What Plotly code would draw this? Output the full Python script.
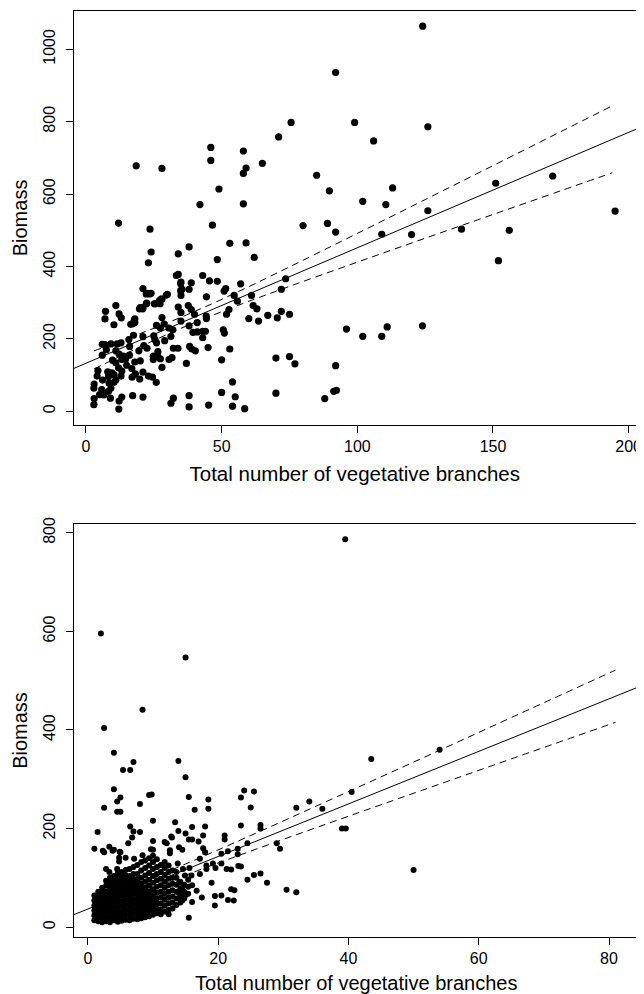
import plotly.graph_objects as go

# ---------------- Top panel data ----------------
top_x = [124.1, 92, 75.6, 99, 126, 106, 71, 46, 46, 58, 18.5, 28, 65, 59, 58, 85, 172, 151, 89.7, 49,
         113, 102, 110.5, 58, 42, 126, 195, 12, 46.6, 80, 89, 92, 23.6, 138.4, 156, 109, 120, 53, 59, 38,
         24, 34, 62, 48.4, 152, 23, 34, 43, 73.6, 45.5, 48.4, 35, 38.8, 57, 72, 38, 21, 35.4, 51.5, 50.9,
         54.6, 61, 35, 30, 22.7, 24, 44.4, 28, 55.8, 22.4, 11, 37.7, 25.4, 27.3, 34, 61.6, 20, 21, 63, 38.8,
         7.2, 72, 12.2, 35, 40, 75, 51.8, 28, 13, 67, 60, 7, 18, 70.5, 44.3, 35, 63.6, 44.4, 52.7, 18,
         16.5, 10.3, 26, 28.8, 38, 41, 27.4, 30.6, 32, 41, 43, 44, 50.6, 51, 39.4, 96, 111, 124, 102, 109,
         17.5, 21, 25, 31.3, 43, 25.4, 15.8, 29, 7, 12.9, 11.5, 9.2, 6, 26, 21.3, 22.5, 16.1, 33.9, 32.2, 38.2,
         39, 40.3, 45, 53, 7.5, 11, 19.5, 26.5, 6, 12.2, 13.8, 16, 24.8, 26.4, 27.4, 31.7, 70, 75, 9.8, 13.2,
         14.6, 18, 20, 24.8, 30.6, 50, 37, 77, 11, 15, 28, 92, 4.4, 12, 16.9, 8, 9.5, 13.2, 21, 18.2,
         4.1, 23, 12.9, 8.3, 10.3, 24.5, 17, 6.1, 11, 19.8, 25.9, 54, 8.5, 3, 10.3, 2.9, 5.8, 9.2, 8.3, 50,
         91.3, 92.3, 70, 5, 6.6, 17.2, 21, 38, 55, 9, 13.2, 32.2, 88, 3, 12.2, 31.3, 2.9, 38, 45.2, 54,
         58.5, 12.1, 33.3, 34.9, 34.9, 22.2, 23.4, 25.2, 22.2, 19.7, 20.9, 27.1, 29.6, 27.7, 17.8, 17.2]
top_y = [1064, 936, 798, 798, 786, 747, 758, 729, 693, 719, 678, 671, 685, 672, 657, 652, 650, 630, 609, 614,
         617, 580, 571, 573, 571, 554, 553, 520, 514, 513, 519, 495, 503, 503, 500, 489, 488, 464, 465, 454,
         440, 435, 425, 419, 416, 410, 378, 375, 366, 360, 359, 357, 355, 352, 337, 337, 339, 337, 339, 332,
         320, 320, 320, 323, 326, 326, 316, 310, 304, 299, 292, 292, 297, 297, 288, 292, 286, 286, 283, 281,
         276, 276, 269, 273, 268, 268, 268, 259, 258, 265, 256, 255, 255, 258, 263, 249, 249, 256, 281, 245,
         240, 239, 237, 241, 236, 245, 230, 230, 225, 219, 221, 221, 225, 216, 218, 227, 233, 236, 207, 207,
         210, 206, 208, 207, 203, 198, 198, 195, 184, 189, 186, 186, 185, 189, 181, 174, 179, 174, 174, 179,
         172, 167, 176, 172, 170, 167, 167, 165, 155, 158, 152, 155, 152, 152, 145, 148, 147, 151, 141, 143,
         144, 136, 139, 143, 143, 142, 132, 131, 134, 127, 121, 126, 112, 120, 118, 109, 106, 111, 108, 103,
         97, 97, 97, 96, 101, 94, 94, 86, 86, 89, 80, 81, 78, 75, 80, 64, 60, 64, 55, 52,
         55, 58, 50, 46, 45, 43, 39, 43, 40, 36, 39, 36, 35, 35, 28, 22, 18, 12, 17, 14,
         7, 6, 375, 352, 333, 324, 324, 297, 297, 283, 283, 306, 321, 310, 251, 242]

top_fit = [132.6, 3.19]          # intercept, slope
top_band_x = [3, 20, 37, 55, 75, 100, 125, 150, 175, 194]
top_band_upper = [167, 214.6, 265.9, 326.5, 398.8, 491.3, 584.8, 678.6, 772.6, 844]
top_band_lower = [117, 178.2, 235.3, 289.5, 345, 411.9, 478, 543.6, 609.2, 659]
top_xticks = [0, 50, 100, 150, 200]
top_yticks = [0, 200, 400, 600, 800, 1000]
top_xrange = [-4.6, 202.7]
top_yrange = [-38, 1106]

# ---------------- Bottom panel data ----------------
bot_out_x = [39.5, 2, 15, 8.4, 2.5, 54, 43.5, 13.9, 4, 5.4, 6.5, 7, 15, 4, 40.5, 9.8, 9.4, 24, 25.5, 15.5,
             23.5, 34, 4.5, 5, 4.5, 2.5, 8, 5, 16.4, 18.5, 18.5, 25, 32, 36, 10, 13.4, 26.5, 26.5, 23.5, 18,
             16, 6.5, 39, 39.6, 1.5, 7, 8, 13.9, 15, 21, 21, 17, 15.5, 16, 10, 6.2, 12.1, 12.9, 24.5, 29,
             29.5, 23, 1, 2.5, 4, 5, 21.5, 20.5, 23, 14.5, 10, 18, 23.5, 24.5, 25.5, 26.5, 27.5, 30.5, 32, 50,
             22, 22.5, 20.5, 21.5, 22.4, 19.5, 19.5, 19, 17.5, 15.5, 16, 16, 14.5, 12.4,
             17.7, 17.7, 17.2, 13.8, 14.6, 15.6, 18.2, 18.2, 19.2, 19.6, 20.5, 21.3, 22, 23.1, 14.9, 15.9, 17.2,
             16.7, 14, 14.5, 14, 15, 14.2,
             6.8, 11.8, 12.8, 2.3, 3.3, 3.8, 4.9, 4.8, 4.8, 5.8, 7.1, 8.4, 9.7, 12.6, 12.6, 14, 2.8, 3.3, 4.5]
bot_out_y = [787, 596, 547, 441, 404, 360, 341, 337, 354, 319, 319, 335, 304, 280, 274, 269, 268, 277, 275, 264,
             263, 255, 255, 234, 234, 242, 250, 263, 238, 259, 240, 243, 242, 240, 216, 213, 207, 200, 206, 204,
             203, 204, 200, 200, 193, 194, 193, 195, 190, 186, 178, 174, 178, 178, 175, 170, 170, 182, 170, 170,
             159, 159, 159, 152, 157, 152, 154, 149, 148, 157, 157, 152, 123, 96, 106, 109, 90, 76, 71, 116,
             77, 75, 64, 55, 54, 63, 44, 90, 60, 19, 85, 51, 54, 26,
             186, 160, 139, 129, 118, 120, 125, 118, 129, 120, 129, 118, 117, 124, 105, 105, 108,
             74, 90, 80, 70, 65, 58,
             182, 173, 184, 155, 163, 155, 153, 141, 133, 141, 139, 146, 158, 156, 150, 162, 118, 112, 118]

# dense cluster near the origin
bot_clu_x = ([1.0] * 6 + [1.6] * 7 + [2.2] * 8 + [2.8] * 9 + [3.4] * 10 + [4.0] * 10 + [4.6] * 11 +
             [5.2] * 11 + [5.8] * 11 + [6.4] * 11 + [7.0] * 11 + [7.6] * 11 + [8.2] * 11 + [8.8] * 11 +
             [9.4] * 11 + [10.0] * 11 + [10.6] * 10 + [11.2] * 9 + [11.8] * 9 + [12.4] * 8 + [13.0] * 7 +
             [13.6] * 6 + [14.2] * 4 + [14.8] * 3 + [15.4] * 3)
bot_clu_y = [14, 24, 34, 44, 54, 64,
             12, 22, 32, 42, 52, 62, 72,
             10, 20, 30, 40, 50, 60, 70, 80,
             12, 22, 32, 42, 52, 62, 72, 84, 94,
             10, 20, 30, 40, 50, 60, 70, 80, 90, 100,
             14, 24, 34, 44, 54, 64, 74, 84, 94, 104,
             11, 21, 31, 41, 51, 61, 71, 81, 91, 101, 110,
             13, 23, 33, 43, 53, 63, 73, 83, 93, 103, 112,
             15, 25, 35, 45, 55, 65, 75, 85, 95, 105, 116,
             14, 24, 34, 44, 54, 64, 74, 84, 94, 104, 118,
             17, 27, 37, 47, 57, 67, 77, 87, 97, 108, 122,
             16, 26, 36, 46, 56, 66, 76, 86, 96, 108, 126,
             18, 28, 38, 48, 58, 68, 78, 88, 100, 115, 132,
             20, 30, 40, 50, 60, 70, 80, 92, 105, 120, 135,
             22, 32, 42, 52, 62, 72, 84, 96, 110, 125, 140,
             25, 35, 45, 55, 65, 77, 90, 104, 118, 132, 145,
             28, 38, 48, 58, 70, 82, 95, 108, 122, 138,
             26, 36, 48, 60, 72, 85, 98, 112, 126,
             32, 44, 56, 68, 80, 92, 106, 120, 132,
             35, 48, 60, 72, 85, 98, 112, 125,
             38, 50, 62, 75, 88, 100, 115,
             45, 58, 72, 86, 100, 112,
             50, 64, 78, 92,
             58, 72, 86,
             68, 82, 96]

bot_fit = [36.8, 5.33]
bot_band_x = [1, 8, 15, 25, 35, 45, 55, 65, 81]
bot_band_upper = [53.4, 89.5, 128.1, 185.9, 245.2, 304.9, 364.9, 425.2, 521.5]
bot_band_lower = [30.8, 69.3, 105.5, 154.3, 201.6, 248.3, 294.9, 341.4, 415.5]
bot_xticks = [0, 20, 40, 60, 80]
bot_yticks = [0, 200, 400, 600, 800]
bot_xrange = [-2.2, 84.6]
bot_yrange = [-20, 818]

x_title = "Total number of vegetative branches"
y_title = "Biomass"

# ---------------- Figure ----------------
fig = go.Figure()

# top panel
fig.add_trace(go.Scatter(x=top_x, y=top_y, mode="markers",
                         marker=dict(color="black", size=7.2, line=dict(width=0)),
                         xaxis="x", yaxis="y"))
fig.add_trace(go.Scatter(x=top_xrange, y=[top_fit[0] + top_fit[1] * v for v in top_xrange],
                         mode="lines", line=dict(color="black", width=1), xaxis="x", yaxis="y"))
for band in (top_band_upper, top_band_lower):
    fig.add_trace(go.Scatter(x=top_band_x, y=band, mode="lines",
                             line=dict(color="black", width=1, dash="7px,5px", shape="spline"),
                             xaxis="x", yaxis="y"))

# bottom panel
fig.add_trace(go.Scatter(x=bot_clu_x + bot_out_x, y=bot_clu_y + bot_out_y, mode="markers",
                         marker=dict(color="black", size=6, line=dict(width=0)),
                         xaxis="x2", yaxis="y2"))
fig.add_trace(go.Scatter(x=bot_xrange, y=[bot_fit[0] + bot_fit[1] * v for v in bot_xrange],
                         mode="lines", line=dict(color="black", width=1), xaxis="x2", yaxis="y2"))
for band in (bot_band_upper, bot_band_lower):
    fig.add_trace(go.Scatter(x=bot_band_x, y=band, mode="lines",
                             line=dict(color="black", width=1, dash="7px,5px", shape="spline"),
                             xaxis="x2", yaxis="y2"))

axis_common = dict(ticks="outside", ticklen=7, tickwidth=1, tickcolor="black",
                   showline=True, mirror=True, linecolor="black", linewidth=1,
                   showgrid=False, zeroline=False, automargin=False,
                   ticklabeloverflow="allow",
                   tickfont=dict(size=16, color="black"))

# The page body adds an 8px offset, so the figure is 636x986 and positions are shifted accordingly.
fig.update_layout(
    width=636, height=986,
    margin=dict(l=0, r=0, t=0, b=0),
    plot_bgcolor="white", paper_bgcolor="white",
    showlegend=False,
    font=dict(family="Liberation Sans, Arial, sans-serif", color="black"),
    xaxis=dict(domain=[0.1030, 0.9874], range=top_xrange, tickvals=top_xticks, anchor="y",
               title=dict(text=x_title, font=dict(size=20.5), standoff=12), **axis_common),
    yaxis=dict(domain=[0.5771, 0.9970], range=top_yrange, tickvals=top_yticks, anchor="x",
               tickangle=-90, ticklabelstandoff=4,
               title=dict(text=y_title, font=dict(size=20), standoff=8), **axis_common),
    xaxis2=dict(domain=[0.1030, 0.9921], range=bot_xrange, tickvals=bot_xticks, anchor="y2",
                title=dict(text=x_title, font=dict(size=20), standoff=9), **axis_common),
    yaxis2=dict(domain=[0.0578, 0.4767], range=bot_yrange, tickvals=bot_yticks, anchor="x2",
                tickangle=-90, ticklabelstandoff=4,
                title=dict(text=y_title, font=dict(size=20), standoff=8), **axis_common),
)

fig.write_html("out.html")
